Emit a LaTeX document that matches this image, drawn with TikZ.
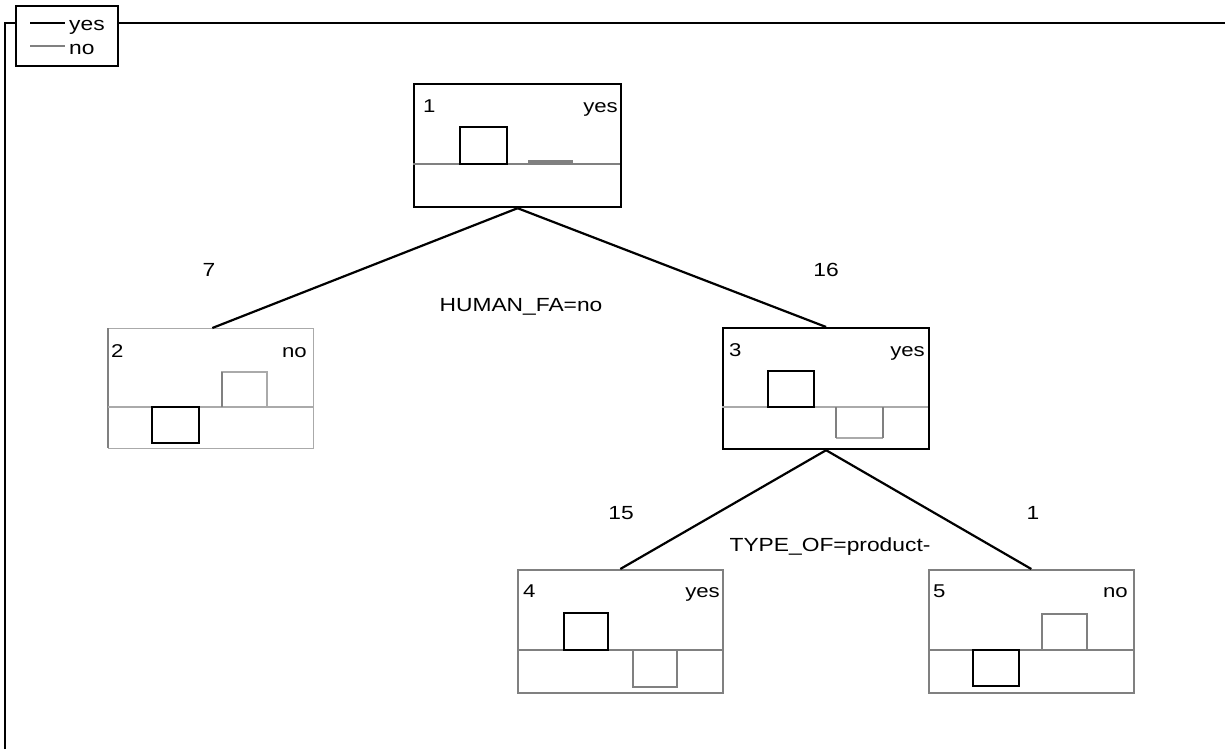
\documentclass[tikz,border=0pt]{standalone}
\usepackage{fontspec}
\setmainfont[FakeStretch=1.2]{Liberation Sans}
\usetikzlibrary{calc}
\definecolor{midgray}{RGB}{128,128,128}
\definecolor{ltgray}{RGB}{170,170,170}
\tikzset{
  treebox/.style={rectangle, anchor=north west, inner sep=0pt, line width=2.2pt},
  blackbox/.style={treebox, draw=black},
  graybox/.style={treebox, draw=midgray, line width=1.6pt},
  blackbar/.style={draw=black, line width=2.2pt},
  graybar/.style={draw=midgray, line width=1.6pt},
  divider/.style={draw=midgray, line width=1.6pt},
  thindiv/.style={draw=ltgray, line width=1.2pt},
  edge/.style={draw=black, line width=2.2pt},
  lbl/.style={font=\fontsize{19}{21}\selectfont, inner sep=0pt},
  cnt/.style={font=\fontsize{18.5}{20}\selectfont, inner sep=0pt},
  frame/.style={draw=black, line width=2.8pt},
}
\begin{document}
\begin{tikzpicture}[x=1pt,y=-1pt]
\useasboundingbox (0,0) rectangle (1225,749);
% frame and legend
\node[draw=black, line width=1.8pt, anchor=north west, minimum width=102pt, minimum height=60pt, inner sep=0pt] (legend) at (15,5) {};
\coordinate (ftl) at (5,23);
\coordinate (fbl) at (5,749);
\coordinate (ftr) at (1225,23);
\draw[frame] (fbl) -- (ftl) -- (legend.west |- ftl);
\draw[frame] (legend.east |- ftr) -- (ftr);
\draw[draw=black, line width=2.2pt] (30,23) -- (65,23);
\node[lbl, anchor=base west] (lyes) at (69,31) {yes};
\draw[draw=midgray, line width=2.2pt] (30,46) -- (65,46);
\node[lbl, anchor=base west] (lno) at (69,55) {no};

% node 1
\node[blackbox, minimum width=207pt, minimum height=123pt] (n1) at (413,83) {};
\draw[divider] (413,164) -- (620,164);
\draw[blackbar] (460,164) rectangle (507,127);
\fill[midgray] (528,160) rectangle (573,164);
\node[cnt, anchor=base west] at (423,113) {1};
\node[cnt, anchor=base east] at (618,113) {yes};

% node 2
\node[graybox, draw=ltgray, line width=1.2pt, minimum width=205pt, minimum height=120pt] (n2) at (108,328) {};
\draw[draw=midgray, line width=2.2pt] (108,328) -- (108,448);
\draw[thindiv] (108,407) -- (313,407);
\draw[draw=ltgray, line width=1.2pt] (222,407) -- (222,372) -- (267,372) -- (267,407);
\draw[draw=midgray, line width=2pt] (222,407) -- (222,372);
\draw[blackbar] (152,407) rectangle (199,443);
\node[cnt, anchor=base west] at (111,357) {2};
\node[cnt, anchor=base east] at (307,357) {no};

% node 3
\node[blackbox, minimum width=206pt, minimum height=121pt] (n3) at (722,327) {};
\draw[thindiv] (722,407) -- (928,407);
\draw[blackbar] (768,407) rectangle (814,371);
\draw[draw=ltgray, line width=1.2pt] (836,438) -- (883,438);
\draw[draw=midgray, line width=2pt] (836,407) -- (836,438);
\draw[draw=midgray, line width=2pt] (883,407) -- (883,438);
\node[cnt, anchor=base west] at (729,356) {3};
\node[cnt, anchor=base east] at (925,356) {yes};

% node 4
\node[graybox, minimum width=205pt, minimum height=123pt] (n4) at (517,569) {};
\draw[divider, line width=2.2pt] (517,650) -- (722,650);
\draw[blackbar] (564,650) rectangle (608,613);
\draw[graybar] (633,650) -- (633,687) -- (677,687) -- (677,650);
\node[cnt, anchor=base west] at (523,597) {4};
\node[cnt, anchor=base east] at (720,597) {yes};

% node 5
\node[graybox, minimum width=205pt, minimum height=123pt] (n5) at (928,569) {};
\draw[divider, line width=2.2pt] (928,650) -- (1133,650);
\draw[graybar] (1042,650) -- (1042,614) -- (1087,614) -- (1087,650);
\draw[blackbar] (973,650) rectangle (1019,686);
\node[cnt, anchor=base west] at (933,597) {5};
\node[cnt, anchor=base east] at (1128,597) {no};

% edges
\draw[edge] (n1.south) -- ($(n2.north west)!0.506!(n2.north east)$);
\draw[edge] (n1.south) -- ($(n3.north west)!0.5!(n3.north east)$);
\draw[edge] (n3.south) -- ($(n4.north west)!0.5!(n4.north east)$);
\draw[edge] (n3.south) -- ($(n5.north west)!0.5!(n5.north east)$);

% edge labels
\node[lbl] (e7) at (209,270) {7};
\node[lbl] (e16) at (826,270) {16};
\node[lbl, anchor=base] (s1) at (521,311) {HUMAN\_FA=no};
\node[lbl] (e15) at (621,513) {15};
\node[lbl] (e1) at (1033,513) {1};
\node[lbl, anchor=base] (s2) at (830,551) {TYPE\_OF=product-};
\end{tikzpicture}
\end{document}
